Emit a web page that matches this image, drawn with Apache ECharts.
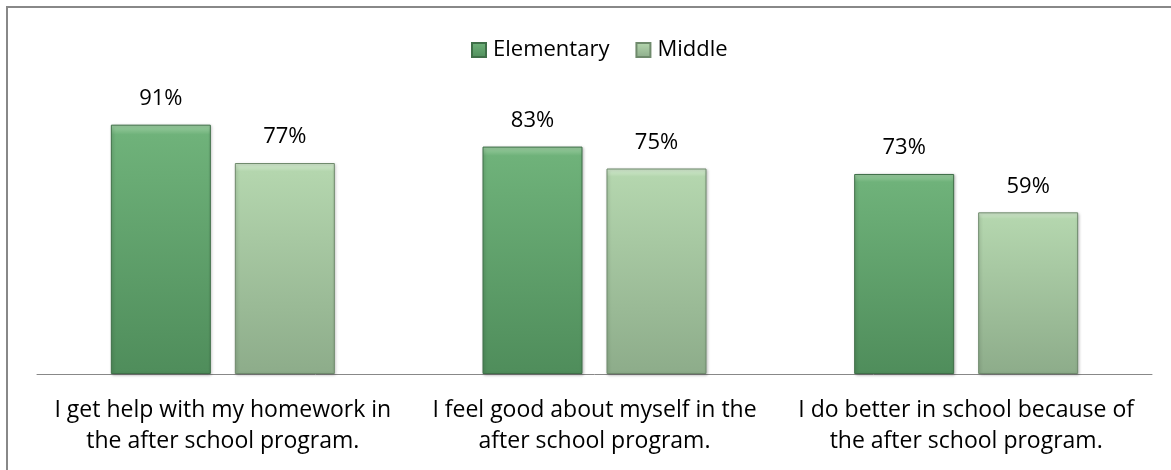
<!DOCTYPE html>
<html>
<head>
<meta charset="utf-8">
<script src="https://cdn.jsdelivr.net/npm/echarts@6/dist/echarts.min.js"></script>
<style>
  html, body { margin: 0; padding: 0; background: #fff; }
  #chart { width: 1171px; height: 470px; }
</style>
</head>
<body>
<div id="chart"></div>
<script>
const categories = [
    'I get help with my homework in\nthe after school program.',
    'I feel good about myself in the\nafter school program.',
    'I do better in school because of\nthe after school program.'
];
const elementary = [91, 83, 73];
const middle = [77, 75, 59];

const font = '"Open Sans", "Noto Sans", sans-serif';

const grad = (top, mid, bottom) => new echarts.graphic.LinearGradient(0, 0, 0, 1, [
    { offset: 0, color: top },
    { offset: 0.04, color: mid },
    { offset: 1, color: bottom }
]);

var myChart = echarts.init(document.getElementById('chart'));

myChart.setOption({
    animation: false,
    graphic: [
        {
            type: 'rect',
            shape: { x: 7, y: 7, width: 1200, height: 500 },
            style: { fill: 'none', stroke: '#888', lineWidth: 2 },
            silent: true
        }
    ],
    legend: {
        top: 34,
        left: 466,
        itemWidth: 14,
        itemHeight: 14,
        itemGap: 26,
        icon: 'rect',
        textStyle: { fontFamily: font, fontSize: 22, color: '#000', padding: [0, 0, 0, 2] },
        data: ['Elementary', 'Middle']
    },
    grid: {
        left: 37,
        right: 19,
        top: 100,
        bottom: 96
    },
    xAxis: {
        type: 'category',
        data: categories,
        axisLine: { lineStyle: { color: '#888', width: 1 } },
        axisTick: { show: false },
        axisLabel: {
            fontFamily: font,
            fontSize: 23,
            color: '#000',
            lineHeight: 31,
            margin: 21,
            interval: 0
        }
    },
    yAxis: {
        type: 'value',
        min: 0,
        max: 100,
        show: false,
        splitLine: { show: false }
    },
    series: [
        {
            name: 'Elementary',
            type: 'bar',
            data: elementary,
            barWidth: 100,
            barGap: '24%',
            itemStyle: {
                color: grad('#9fd0a4', '#6fb27a', '#4f8d5b'),
                borderColor: '#3f6f48',
                borderWidth: 1,
                shadowColor: 'rgba(0,0,0,0.25)',
                shadowBlur: 3,
                shadowOffsetX: 1,
                shadowOffsetY: 1
            },
            label: {
                show: true,
                position: 'top',
                distance: 15,
                formatter: '{c}%',
                fontFamily: font,
                fontSize: 22,
                color: '#000'
            }
        },
        {
            name: 'Middle',
            type: 'bar',
            data: middle,
            barWidth: 100,
            itemStyle: {
                color: grad('#d6ecd2', '#b4d6ae', '#8dac8a'),
                borderColor: '#6f8a6c',
                borderWidth: 1,
                shadowColor: 'rgba(0,0,0,0.25)',
                shadowBlur: 3,
                shadowOffsetX: 1,
                shadowOffsetY: 1
            },
            label: {
                show: true,
                position: 'top',
                distance: 15,
                formatter: '{c}%',
                fontFamily: font,
                fontSize: 22,
                color: '#000'
            }
        }
    ]
});
</script>
</body>
</html>
